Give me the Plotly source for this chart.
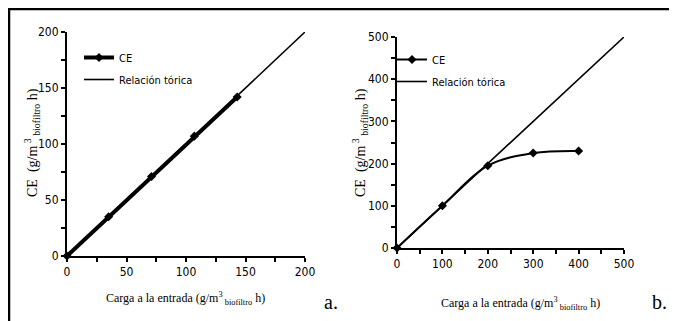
import plotly.graph_objects as go

# Panel a data
a_x = [0, 35, 71, 107, 143]
a_ce = [0, 35, 71, 107, 142]
a_teo_x = [0, 200]
a_teo_y = [0, 200]

# Panel b data
b_x = [0, 100, 200, 300, 400]
b_ce = [0, 100, 195, 225, 230]
b_teo_x = [0, 500]
b_teo_y = [0, 500]

# page body has an 8px margin: figure occupies window from (8, 8)
OFF = 8
W, H = 677 - OFF, 321 - OFF
SANS = "DejaVu Sans Condensed, Liberation Sans Narrow, Roboto Condensed, Liberation Sans"
SERIF = "Liberation Serif, Times New Roman, serif"

def px(x):
    return (x - OFF) / W

def py(y):
    return 1 - (y - OFF) / H

fig = go.Figure()

fig.add_trace(go.Scatter(x=a_x, y=a_ce, mode="lines+markers", name="CE",
                         line=dict(color="black", width=4),
                         marker=dict(symbol="diamond", size=7, color="black"),
                         xaxis="x", yaxis="y", legend="legend", legendgroup="a1",
                         cliponaxis=False))
fig.add_trace(go.Scatter(x=a_teo_x, y=a_teo_y, mode="lines", name="Relación tórica",
                         line=dict(color="black", width=1.6),
                         xaxis="x", yaxis="y", legend="legend", legendgroup="a2",
                         cliponaxis=False))
fig.add_trace(go.Scatter(x=b_x, y=b_ce, mode="lines+markers", name="CE",
                         line=dict(color="black", width=2, shape="spline", smoothing=1.0),
                         marker=dict(symbol="diamond", size=7, color="black"),
                         xaxis="x2", yaxis="y2", legend="legend2", legendgroup="b1",
                         cliponaxis=False))
fig.add_trace(go.Scatter(x=b_teo_x, y=b_teo_y, mode="lines", name="Relación tórica",
                         line=dict(color="black", width=1.6),
                         xaxis="x2", yaxis="y2", legend="legend2", legendgroup="b2",
                         cliponaxis=False))

minor = dict(ticks="outside", ticklen=4, tickwidth=1.5, tickcolor="black")
axis_common = dict(showline=True, linecolor="black", linewidth=2, ticks="outside",
                   ticklen=4, tickwidth=1.5, tickcolor="black", showgrid=False,
                   zeroline=False, automargin=False,
                   tickfont=dict(family=SANS, size=12, color="black"))

xtitle = "Carga a la entrada (g/m<sup>3</sup><sub> biofiltro</sub> h)"
ytitle = "CE  (g/m<sup> 3</sup><sub> biofiltro</sub> h)"
tfont = dict(family=SERIF, size=12, color="black")
yfont = dict(family=SERIF, size=14, color="black")

def ann(text, x, y, font, angle=0):
    return dict(text=text, xref="paper", yref="paper", x=px(x), y=py(y), showarrow=False,
                xanchor="center", yanchor="middle", textangle=angle, font=font)

leg_common = dict(xanchor="left", yanchor="top", bgcolor="rgba(0,0,0,0)",
                  font=dict(family=SANS, size=11, color="black"), tracegroupgap=3,
                  traceorder="grouped")

fig.update_layout(
    width=W, height=H, margin=dict(l=0, r=0, t=0, b=0, autoexpand=False),
    paper_bgcolor="white", plot_bgcolor="white",
    xaxis=dict(domain=[px(67), px(305)], range=[0, 200], dtick=50, anchor="y",
               minor=dict(dtick=25, **minor), **axis_common),
    yaxis=dict(domain=[py(256), py(32)], range=[0, 200], dtick=50, anchor="x",
               minor=dict(dtick=25, **minor), **axis_common),
    xaxis2=dict(domain=[px(397), px(624)], range=[0, 500], dtick=100, anchor="y2",
                minor=dict(dtick=50, **minor), **axis_common),
    yaxis2=dict(domain=[py(248), py(37)], range=[0, 500], dtick=100, anchor="x2",
                minor=dict(dtick=50, **minor), **axis_common),
    legend=dict(x=px(79), y=py(43), **leg_common),
    legend2=dict(x=px(392), y=py(45), **leg_common),
    showlegend=True,
    shapes=[
        dict(type="line", xref="paper", yref="paper", x0=px(8), x1=1, y0=py(9), y1=py(9),
             line=dict(color="black", width=2.5)),
        dict(type="line", xref="paper", yref="paper", x0=px(9), x1=px(9), y0=py(8), y1=0,
             line=dict(color="black", width=2.5)),
    ],
    annotations=[
        ann(xtitle, 185, 298, tfont),
        ann(xtitle, 520, 303, tfont),
        ann(ytitle, 32, 143, yfont, -90),
        ann(ytitle, 360, 143, yfont, -90),
        ann("a.", 331, 302, dict(family=SERIF, size=20, color="black")),
        ann("b.", 659, 302, dict(family=SERIF, size=20, color="black")),
    ],
)

fig.write_html("out.html")
